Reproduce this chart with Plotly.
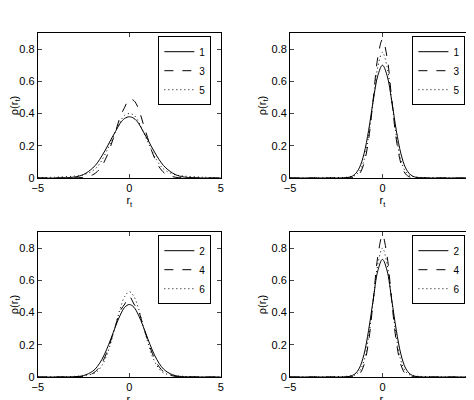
import plotly.graph_objects as go

x = [-5,-4,-3,-2.5,-2,-1.75,-1.5,-1.25,-1,-0.75,-0.5,-0.25,0,0.25,0.5,0.75,1,1.25,1.5,1.75,2,2.5,3,4,5]

tl_1 = [0,0,.006,.022,.062,.094,.137,.186,.24,.29,.34,.37,.38,.37,.34,.29,.24,.186,.137,.094,.062,.022,.006,0,0]
tl_3 = [0,0,.001,.004,.020,.040,.075,.130,.205,.29,.38,.44,.49,.48,.43,.34,.25,.16,.095,.05,.024,.005,.001,0,0]
tl_5 = [.002,.005,.012,.02,.045,.07,.11,.165,.225,.29,.35,.39,.40,.39,.35,.29,.225,.165,.11,.07,.045,.02,.012,.005,.002]

tr_1 = [0,0,0,0,.002,.006,.022,.063,.15,.295,.48,.636,.70,.636,.48,.295,.15,.063,.022,.006,.002,0,0,0,0]
tr_3 = [0,0,0,0,0,.001,.005,.025,.09,.24,.49,.75,.86,.75,.49,.24,.09,.025,.005,.001,0,0,0,0,0]
tr_5 = [0,0,.002,.003,.004,.008,.015,.04,.11,.26,.48,.69,.78,.69,.48,.26,.11,.04,.015,.008,.004,.003,.002,0,0]

bl_2 = [0,0,.002,.009,.036,.065,.109,.168,.24,.316,.384,.433,.45,.433,.384,.316,.24,.168,.109,.065,.036,.009,.002,0,0]
bl_4 = [0,0,.001,.004,.022,.046,.086,.148,.23,.32,.41,.453,.50,.453,.41,.32,.23,.148,.086,.046,.022,.004,.001,0,0]
bl_6 = [0,.001,.004,.008,.02,.035,.072,.13,.218,.32,.425,.50,.53,.50,.425,.32,.218,.13,.072,.035,.02,.008,.004,.001,0]

br_2 = [0,0,0,0,.001,.005,.018,.055,.14,.29,.48,.66,.73,.66,.48,.29,.14,.055,.018,.005,.001,0,0,0,0]
br_4 = [0,0,0,0,0,.001,.004,.018,.075,.22,.475,.75,.88,.75,.475,.22,.075,.018,.004,.001,0,0,0,0,0]
br_6 = [0,0,.001,.002,.004,.006,.012,.035,.10,.25,.475,.70,.80,.70,.475,.25,.10,.035,.012,.006,.004,.002,.001,0,0]

panels = [
    ("x", "y", "legend", [("1", tl_1), ("3", tl_3), ("5", tl_5)]),
    ("x2", "y2", "legend2", [("1", tr_1), ("3", tr_3), ("5", tr_5)]),
    ("x3", "y3", "legend3", [("2", bl_2), ("4", bl_4), ("6", bl_6)]),
    ("x4", "y4", "legend4", [("2", br_2), ("4", br_4), ("6", br_6)]),
]
dashes = ["solid", "dash", "1px,3px"]

fig = go.Figure()
for xa, ya, lg, series in panels:
    for (name, vals), d in zip(series, dashes):
        fig.add_trace(go.Scatter(x=x, y=vals, xaxis=xa, yaxis=ya, legend=lg, name=name,
                                 mode="lines", line=dict(color="black", width=1, dash=d, shape="spline")))

xd = [[0.063, 0.449], [0.595, 0.985]]
yd = [[0.575, 0.9375], [0.0775, 0.44]]
font = dict(family="Liberation Sans, Arial", size=11, color="black")
ax = dict(showgrid=False, zeroline=False, mirror="ticks", ticks="inside", ticklen=4,
          showline=True, linecolor="black", linewidth=1, tickfont=font, automargin=False)
lay = {}
doms = [(xd[0], yd[0]), (xd[1], yd[0]), (xd[0], yd[1]), (xd[1], yd[1])]
for i, (dx, dy) in enumerate(doms):
    s = "" if i == 0 else str(i + 1)
    lay["xaxis" + s] = dict(ax, domain=dx, range=[-5, 5], tickvals=[-5, 0, 5], anchor="y" + s,
                            title=dict(text="r<sub>t</sub>", font=font, standoff=0))
    lay["yaxis" + s] = dict(ax, domain=dy, range=[0, 0.9], tickvals=[0, 0.2, 0.4, 0.6, 0.8],
                            ticktext=["0", "0.2", "0.4", "0.6", "0.8"], anchor="x" + s,
                            title=dict(text="ρ(r<sub>t</sub>)", font=font, standoff=2))
    lg = "legend" if i == 0 else "legend" + str(i + 1)
    lay[lg] = dict(x=dx[1] - 0.02, y=dy[1] - 0.008, xanchor="right", yanchor="top",
                   bordercolor="black", borderwidth=1, bgcolor="white",
                   font=dict(family="Liberation Sans, Arial", size=10, color="black"),
                   tracegroupgap=0, itemwidth=30, entrywidthmode="pixels")

fig.update_layout(**lay, width=474, height=400, margin=dict(l=0, r=0, t=0, b=0, autoexpand=False),
                  plot_bgcolor="white", paper_bgcolor="white", showlegend=True)
fig.write_html("out.html")
